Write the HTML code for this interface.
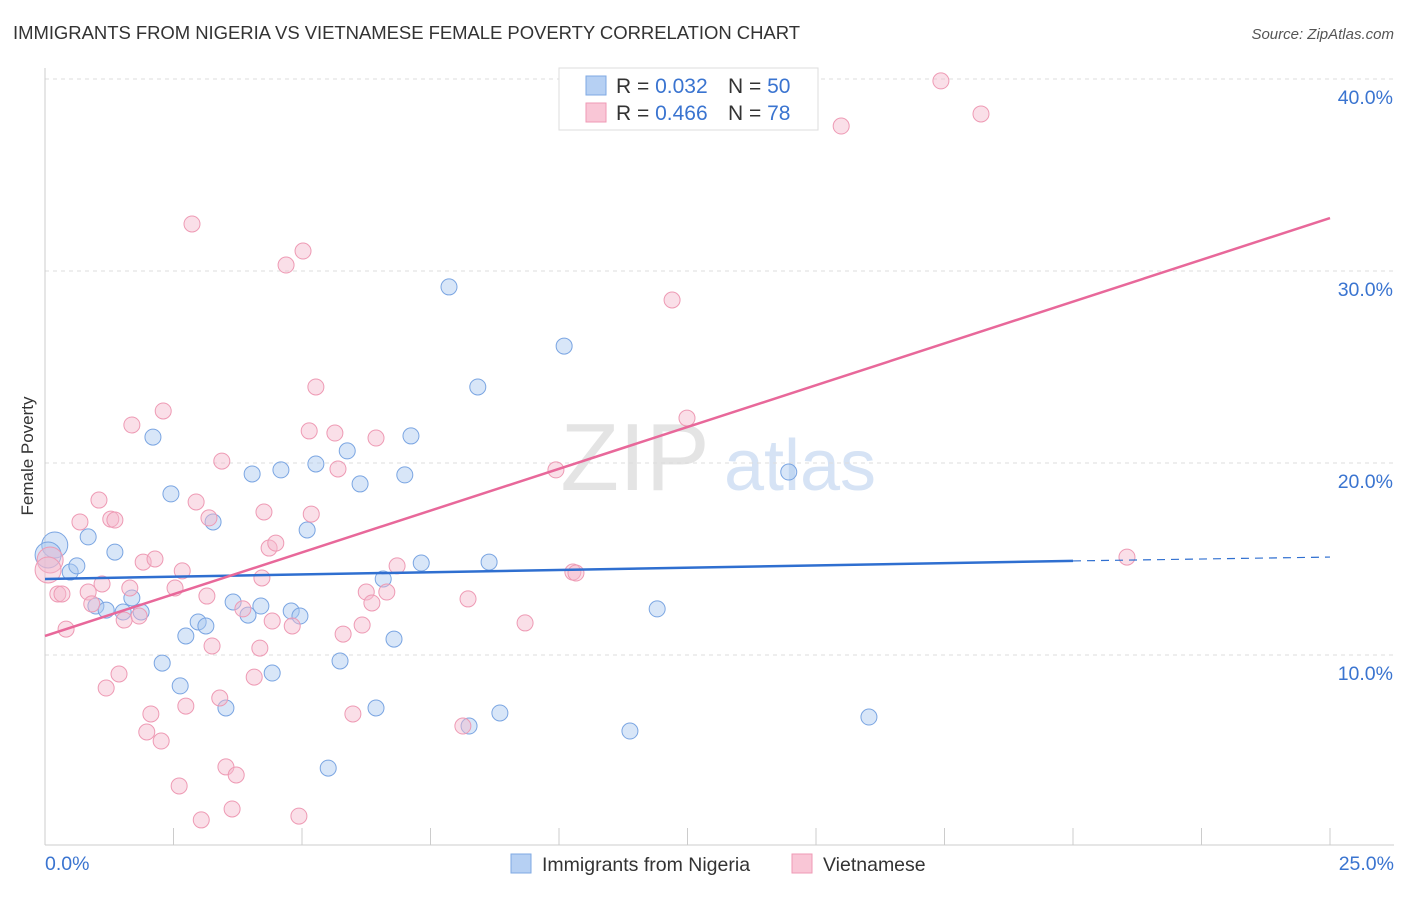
<!DOCTYPE html>
<html><head><meta charset="utf-8">
<style>
body{margin:0;background:#fff;font-family:"Liberation Sans",sans-serif;}
svg text{font-family:"Liberation Sans",sans-serif;}
</style></head>
<body>
<svg id="chart" width="1406" height="892" xmlns="http://www.w3.org/2000/svg">
<text x="13" y="39" font-size="18.5" fill="#333" textLength="787">IMMIGRANTS FROM NIGERIA VS VIETNAMESE FEMALE POVERTY CORRELATION CHART</text>
<text x="1394" y="39" font-size="15" fill="#555" font-style="italic" text-anchor="end">Source: ZipAtlas.com</text>
<text transform="translate(33,456) rotate(-90)" font-size="17" fill="#333" text-anchor="middle">Female Poverty</text>
<g>
<text x="635" y="490" font-size="96" fill="#e4e4e4" font-family="Liberation Serif" text-anchor="middle">ZIP</text>
<text x="800" y="490" font-size="72" fill="#d6e3f5" text-anchor="middle">atlas</text>
</g>
<g id="grid"></g>
<g id="axes"></g>
<g id="marks"></g>
<g>
<rect x="559" y="68" width="259" height="62" fill="#fff" stroke="#ddd"/>
<rect x="586" y="76" width="20" height="19" fill="#b6d0f3" stroke="#7fa9e3"/>
<rect x="586" y="103" width="20" height="19" fill="#f9c6d6" stroke="#ef9ab5"/>
<text x="616" y="93" font-size="21" fill="#333">R = <tspan fill="#3a74d0">0.032</tspan></text>
<text x="728" y="93" font-size="21" fill="#333">N = <tspan fill="#3a74d0">50</tspan></text>
<text x="616" y="120" font-size="21" fill="#333">R = <tspan fill="#3a74d0">0.466</tspan></text>
<text x="728" y="120" font-size="21" fill="#333">N = <tspan fill="#3a74d0"> 78</tspan></text>
</g>
<g>
<rect x="511" y="854" width="20" height="19" fill="#b6d0f3" stroke="#7fa9e3"/>
<text x="542" y="871" font-size="19.5" fill="#333">Immigrants from Nigeria</text>
<rect x="792" y="854" width="20" height="19" fill="#f9c6d6" stroke="#ef9ab5"/>
<text x="823" y="871" font-size="19.5" fill="#333">Vietnamese</text>
</g>
</svg>
<script>
const xTicks=[0,25];
const yTicks=[10,20,30,40];
const blueX=[0.19,0.06,0.49,0.62,0.84,1.36,0.99,1.19,1.52,1.69,1.87,2.10,2.45,2.28,2.63,2.74,2.98,3.13,3.27,3.52,3.66,3.95,4.03,4.20,4.42,4.59,4.79,4.96,5.10,5.27,5.51,5.74,5.88,6.13,6.44,6.58,6.79,7.00,7.12,7.32,7.86,8.25,8.42,8.64,8.85,10.10,11.38,11.91,14.47,16.03];
const blueY=[15.73,15.21,14.32,14.64,16.15,15.36,12.55,12.34,12.24,12.97,12.24,21.35,18.39,9.58,8.39,10.99,11.72,11.51,16.93,7.24,12.76,12.08,19.43,12.55,9.06,19.64,12.29,12.03,16.51,19.95,4.11,9.69,20.63,18.91,7.24,13.96,10.83,19.38,21.41,14.79,29.17,6.30,23.96,14.84,6.98,26.09,6.04,12.40,19.53,6.77];
const pinkX=[0.10,0.06,0.25,0.33,0.41,0.68,0.84,0.91,1.05,1.11,1.19,1.28,1.36,1.44,1.54,1.65,1.69,1.83,1.91,1.98,2.06,2.14,2.26,2.30,2.53,2.61,2.67,2.74,2.86,2.94,3.04,3.15,3.19,3.25,3.40,3.44,3.52,3.64,3.72,3.85,4.07,4.18,4.22,4.26,4.36,4.42,4.49,4.69,4.81,4.94,5.02,5.18,5.27,5.14,5.64,5.70,5.80,5.99,6.17,6.25,6.36,6.44,6.65,6.85,8.13,8.23,9.34,9.94,10.27,10.33,12.20,12.49,15.49,17.43,18.21,21.05];
const pinkY=[14.95,14.43,13.18,13.18,11.35,16.93,13.28,12.66,18.07,13.70,8.28,17.08,17.03,9.01,11.82,13.49,21.98,12.03,14.84,5.99,6.93,15.00,5.52,22.71,13.49,3.18,14.38,7.34,32.45,17.97,1.41,13.07,17.14,10.47,7.76,20.10,4.17,1.98,3.75,12.40,8.85,10.36,14.01,17.45,15.57,11.77,15.83,30.31,11.51,1.61,31.04,17.34,23.96,21.67,21.56,19.69,11.09,6.93,11.56,13.28,12.71,21.30,13.28,14.64,6.30,12.92,11.67,19.64,14.32,14.27,28.49,22.34,37.55,39.90,38.18,15.10];
const blueTrend=[13.96,14.90,15.10]; // at x=0,20,25
const pinkTrend=[10.99,32.76]; // at x=0,25

const NS="http://www.w3.org/2000/svg";
const X=v=>45+v*51.4, Y=v=>847-v*19.2;
function mk(tag,attrs,parent){const e=document.createElementNS(NS,tag);for(const k in attrs)e.setAttribute(k,attrs[k]);document.getElementById(parent).appendChild(e);return e;}
yTicks.forEach(t=>{
 const l=mk('line',{x1:45,x2:1394,y1:Y(t),y2:Y(t),stroke:'#ddd','stroke-dasharray':'4,4'},'grid');
 
 
 const tx=mk('text',{x:1393,y:Y(t)+25,'font-size':19.5,fill:'#3a74d0','text-anchor':'end'},'grid');
 tx.textContent=t.toFixed(1)+'%';
 
 
});
mk('line',{x1:45,x2:45,y1:68,y2:845,stroke:'#ccc'},'axes');
mk('line',{x1:45,x2:1394,y1:845,y2:845,stroke:'#ccc'},'axes');
for(let i=0;i<=10;i++){const t=mk('line',{x1:X(i*2.5),x2:X(i*2.5),y1:828,y2:845,stroke:'#ccc'},'axes');}
xTicks.forEach((t,i)=>{const tx=mk('text',{x:i?1394:45,y:870,'font-size':19.5,fill:'#3a74d0','text-anchor':i?'end':'start'},'axes');tx.textContent=t.toFixed(1)+'%';
 
 });
function dot(x,y,r,fill,stroke){const c=mk('circle',{cx:X(x),cy:Y(y),r:r,fill:fill,'fill-opacity':0.45,stroke:stroke,'stroke-width':1},'marks');return c;}
blueX.forEach((x,i)=>{const c=dot(x,blueY[i],i<2?13:8,'#a9c8f0','#7aa5e2');
 
 });
pinkX.forEach((x,i)=>{const c=dot(x,pinkY[i],i<2?13:8,'#f5b8cc','#ee9ab4');
 
 });
const b1=mk('line',{x1:X(0),y1:Y(blueTrend[0]),x2:X(20),y2:Y(blueTrend[1]),stroke:'#2f6fd0','stroke-width':2.5},'marks');


const b2=mk('line',{x1:X(20),y1:Y(blueTrend[1]),x2:X(25),y2:Y(blueTrend[2]),stroke:'#2f6fd0','stroke-width':1.2,'stroke-dasharray':'8,6'},'marks');


const p1=mk('line',{x1:X(0),y1:Y(pinkTrend[0]),x2:X(25),y2:Y(pinkTrend[1]),stroke:'#e8689a','stroke-width':2.5},'marks');


</script>
</body></html>
